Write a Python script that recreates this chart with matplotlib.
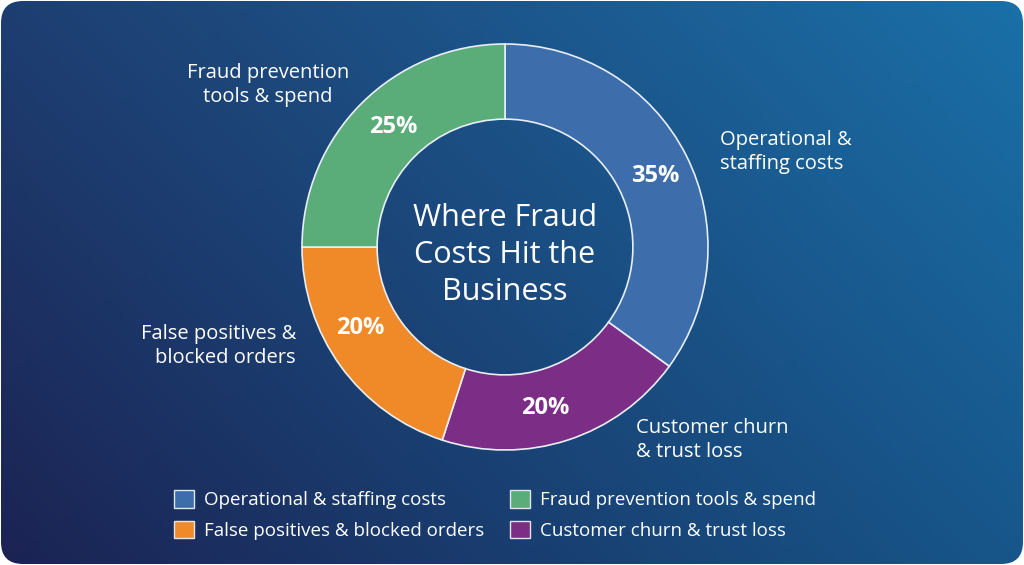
import numpy as np
import matplotlib
matplotlib.use("Agg")
import matplotlib.pyplot as plt
from matplotlib.patches import FancyBboxPatch, Patch
from matplotlib.colors import to_rgb

plt.rcParams['font.family'] = ['Open Sans', 'DejaVu Sans']

# -----------------------------
# Data
# -----------------------------
categories = ["Operational & staffing costs", "Customer churn & trust loss",
              "False positives & blocked orders", "Fraud prevention tools & spend"]
shares = [35, 20, 20, 25]
colors = ["#3d6eab", "#7c2d86", "#f08a28", "#5aac79"]
side_labels = ["Operational &\nstaffing costs", "Customer churn\n& trust loss",
               "False positives &\nblocked orders", "Fraud prevention\ntools & spend"]
center_title = "Where Fraud\nCosts Hit the\nBusiness"

W, H = 1024, 565
fig = plt.figure(figsize=(W / 100, H / 100), dpi=100)
fig.patch.set_facecolor("white")
ax = fig.add_axes([0, 0, 1, 1])

# -----------------------------
# Background: bilinear gradient between corner colours, rounded card
# -----------------------------
bl, tl = np.array(to_rgb("#1b2353")), np.array(to_rgb("#1e3e71"))
tr, br = np.array(to_rgb("#1a70a8")), np.array(to_rgb("#17568a"))
u = np.linspace(0, 1, 300)[None, :, None]
v = np.linspace(0, 1, 200)[:, None, None]  # v=1 is top (origin lower)
grad = (1 - u) * (1 - v) * bl + (1 - u) * v * tl + u * v * tr + u * (1 - v) * br
bg = ax.imshow(grad, extent=[0, W, 0, H], origin="lower", zorder=0,
               aspect="auto", interpolation="bilinear")
box = FancyBboxPatch((1, 1), W - 2, H - 2, boxstyle="round,pad=0,rounding_size=22",
                     transform=ax.transData, facecolor="none", edgecolor="none")
ax.add_patch(box)
bg.set_clip_path(box)

# -----------------------------
# Donut
# -----------------------------
cx, cy, R = 505, H - 247, 203
wedges, _ = ax.pie(shares, colors=colors, startangle=90, counterclock=False,
                   center=(cx, cy), radius=R,
                   wedgeprops=dict(width=R * 0.37, edgecolor="#e8eef5", linewidth=1.2))
for w in wedges:
    w.set_zorder(2)

# percentage labels inside ring
pct_pos = [(655, 176), (545, 408), (360, 328), (393, 127)]
for (px, py), s in zip(pct_pos, shares):
    ax.text(px, H - py, f"{s}%", color="white", fontsize=17, fontweight="bold",
            ha="center", va="center", zorder=3)

# side labels
lab_pos = [(720, 152, "left"), (636, 440, "left"), (296, 346, "right"), (268, 85, "center")]
for (lx, ly, ha), txt in zip(lab_pos, side_labels):
    ax.text(lx, H - ly, txt, color="white", fontsize=14.5, ha=ha, va="center",
            multialignment=ha, linespacing=1.3, zorder=3)

ax.text(cx, H - 255, center_title, color="white", fontsize=22, ha="center", va="center",
        linespacing=1.3, zorder=3)

# -----------------------------
# Legend
# -----------------------------
order = [0, 2, 3, 1]
handles = [Patch(facecolor=colors[i], edgecolor="#dfe6ee", linewidth=1.0, label=categories[i])
           for i in order]
leg = ax.legend(handles=handles, ncol=2, loc="center left",
                bbox_to_anchor=(157 / W, 1 - 515 / H), frameon=False,
                fontsize=13.5, labelcolor="white", handlelength=1.05, handleheight=1.05,
                handletextpad=0.55, columnspacing=1.4, labelspacing=0.6)

ax.set_xlim(0, W)
ax.set_ylim(0, H)
ax.set_aspect("equal")
ax.axis("off")

plt.savefig("out.png", dpi=100, facecolor=fig.get_facecolor())
